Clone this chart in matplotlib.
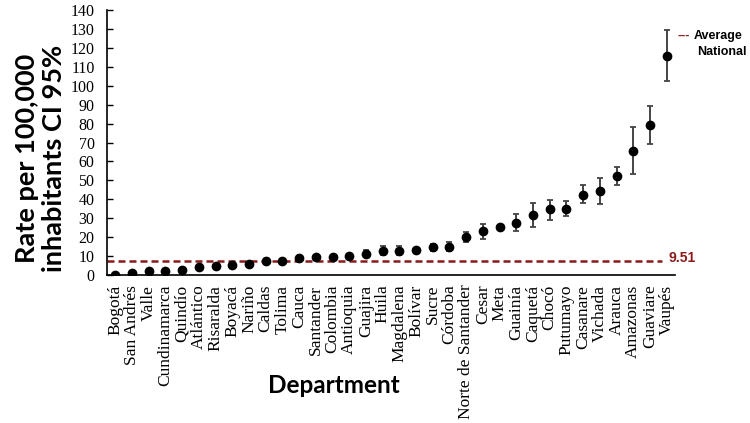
import matplotlib
matplotlib.use("Agg")
import matplotlib.pyplot as plt
import numpy as np

# datos
departamentos = ['Bogotá', 'San Andrés', 'Valle', 'Cundinamarca', 'Quindío', 'Atlántico',
                 'Risaralda', 'Boyacá', 'Nariño', 'Caldas', 'Tolima', 'Cauca', 'Santander',
                 'Colombia', 'Antioquia', 'Guajira', 'Huila', 'Magdalena', 'Bolívar', 'Sucre',
                 'Córdoba', 'Norte de Santander', 'Cesar', 'Meta', 'Guainía', 'Caquetá',
                 'Chocó', 'Putumayo', 'Casanare', 'Vichada', 'Arauca', 'Amazonas',
                 'Guaviare', 'Vaupés']
tasa = [0.2, 1.2, 2.0, 2.0, 2.5, 4.2, 4.6, 5.3, 5.8, 7.2, 7.2, 9.2, 9.3, 9.3, 10.2, 11.3,
        12.8, 12.8, 13.4, 14.6, 15.0, 19.9, 23.4, 25.4, 27.6, 31.7, 34.7, 35.0, 42.4, 44.4,
        52.1, 65.5, 79.1, 115.9]
ic_inf = [0.0, 0.6, 1.5, 1.6, 1.8, 3.6, 3.8, 4.6, 5.2, 6.6, 6.5, 8.5, 8.8, 9.0, 9.6, 9.5,
          10.5, 10.6, 12.4, 12.5, 12.5, 17.4, 19.2, 24.4, 23.2, 25.4, 29.1, 31.2, 38.0, 37.5,
          47.4, 53.4, 69.0, 102.6]
ic_sup = [0.6, 1.9, 2.6, 2.5, 3.3, 4.9, 5.5, 6.1, 6.5, 7.9, 8.0, 9.9, 9.9, 9.7, 10.9, 13.1,
          15.3, 15.1, 14.5, 16.6, 17.5, 22.6, 26.9, 26.5, 32.4, 38.2, 39.6, 38.9, 47.5, 51.4,
          56.9, 78.3, 89.3, 129.4]
promedio_nacional = 7.5
etiqueta_promedio = '9.51'

x = np.arange(len(departamentos))
tasa = np.array(tasa)
err = [tasa - np.array(ic_inf), np.array(ic_sup) - tasa]

fig = plt.figure(figsize=(7.5, 4.23), dpi=100)
ax = fig.add_axes([0.1427, 0.35, 0.7573, 0.626])

rojo = '#8B1A1A'
ax.plot([-0.5, 32.7], [promedio_nacional, promedio_nacional], '--', color=rojo,
        lw=1.8, dashes=(2.8, 1.6), zorder=1)
ax.errorbar(x, tasa, yerr=err, fmt='o', color='black', ms=6, ecolor='#444444',
            elinewidth=1.4, capsize=2.5, capthick=1.3, zorder=3)

ax.text(33.1, 9.0, etiqueta_promedio, color=rojo, fontsize=10,
        fontweight='bold', family='Liberation Sans', va='center', ha='left')

ax.set_xlim(-0.5, 33.5)
ax.set_ylim(0, 140)
ax.set_yticks(range(0, 141, 10))
ax.set_xticks(x)
ax.set_xticklabels(departamentos, rotation=90, family='Liberation Serif', fontsize=12.5)
ax.tick_params(axis='x', length=0, pad=7)
ax.tick_params(axis='y', direction='in', length=4, width=1, pad=9)
for lab in ax.get_yticklabels():
    lab.set_family('Liberation Serif')
    lab.set_fontsize(11.5)

ax.spines['top'].set_visible(False)
ax.spines['right'].set_visible(False)
ax.spines['left'].set_linewidth(1.2)
ax.spines['bottom'].set_linewidth(1.2)

# etiquetas de ejes colocadas a mano, como en la figura original
fig.text(41 / 750, 1 - 158 / 423, 'Rate per 100,000\ninhabitants CI 95%', family='Lato',
         fontweight='bold', fontsize=19.5, rotation=90, ha='center', va='center',
         linespacing=1.15)
fig.text(334 / 750, 1 - 385 / 423, 'Department', family='Lato', fontweight='bold',
         fontsize=17.5, ha='center', va='center')

# leyenda manual
fig.text(678 / 750, 1 - 36 / 423, '---', color=rojo, fontsize=9, fontweight='bold',
         family='Liberation Sans', va='center', ha='left')
fig.text(694 / 750, 1 - 36 / 423, 'Average', color='black', fontsize=9, fontweight='bold',
         family='Liberation Sans', va='center', ha='left')
fig.text(697 / 750, 1 - 52 / 423, 'National', color='black', fontsize=9, fontweight='bold',
         family='Liberation Sans', va='center', ha='left')

fig.savefig('out.png', dpi=100)
